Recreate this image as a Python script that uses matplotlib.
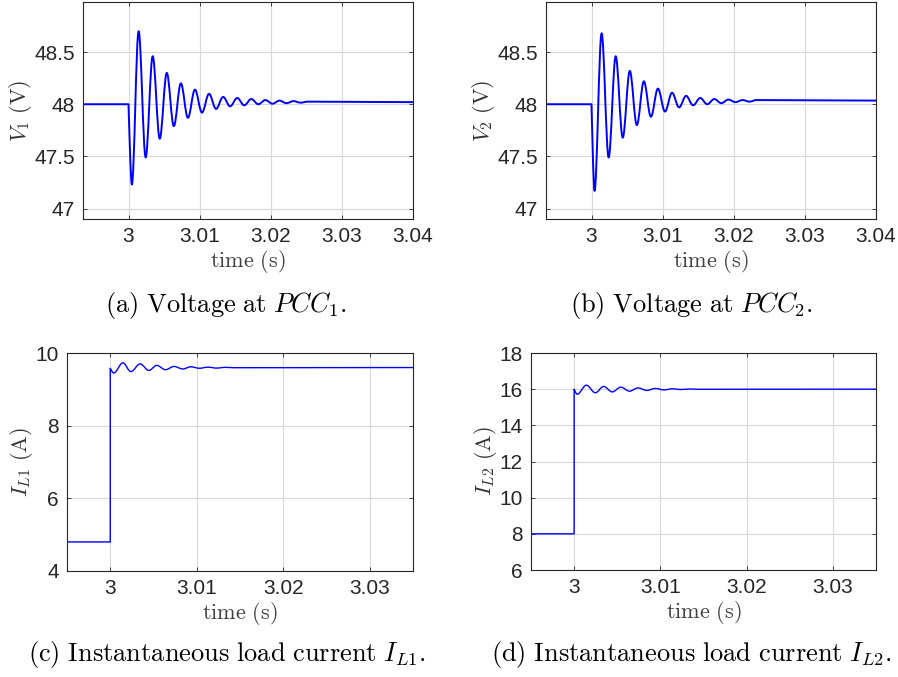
import matplotlib
matplotlib.use('Agg')
import matplotlib.pyplot as plt
from matplotlib.ticker import FormatStrFormatter
from matplotlib.path import Path
from matplotlib.patches import PathPatch

plt.rcParams['mathtext.fontset'] = 'cm'
plt.rcParams['font.family'] = 'Liberation Sans'

# values (turning points of the transients)
t_v1 = [2.9936, 3.0, 3.00047, 3.00142, 3.00241, 3.0034, 3.00439, 3.00538, 3.00637,
        3.00736, 3.00835, 3.00934, 3.01033, 3.01132, 3.01231, 3.0133, 3.01429,
        3.01528, 3.01627, 3.01726, 3.01825, 3.01924, 3.02024, 3.02123, 3.0222,
        3.0232, 3.0242, 3.0252, 3.04]
v1 = [48.0, 48.0, 47.23, 48.70, 47.49, 48.46, 47.67, 48.30, 47.79,
      48.20, 47.87, 48.14, 47.92, 48.10, 47.955, 48.07, 47.98,
      48.06, 47.99, 48.05, 48.0, 48.04, 48.005, 48.035, 48.01,
      48.03, 48.015, 48.025, 48.02]

t_v2 = [2.9936, 3.0, 3.00042, 3.00142, 3.00241, 3.0034, 3.00439, 3.00538, 3.00637,
        3.00736, 3.00835, 3.00934, 3.01033, 3.01132, 3.01231, 3.0133, 3.01429,
        3.01528, 3.01627, 3.01726, 3.01825, 3.01924, 3.02024, 3.02123, 3.0222,
        3.0232, 3.04]
v2 = [48.0, 48.0, 47.17, 48.68, 47.49, 48.46, 47.68, 48.32, 47.80,
      48.22, 47.88, 48.15, 47.93, 48.11, 47.97, 48.08, 47.99,
      48.06, 48.0, 48.05, 48.01, 48.045, 48.02, 48.04, 48.025,
      48.04, 48.035]

t_i1 = [2.995, 3.0, 3.0, 3.0004, 3.00146, 3.00238, 3.00346, 3.00446, 3.00538,
        3.00638, 3.00738, 3.00838, 3.00931, 3.0103, 3.0113, 3.0123, 3.0133,
        3.0143, 3.035]
i1 = [4.8, 4.8, 9.58, 9.45, 9.73, 9.49, 9.70, 9.52, 9.66,
      9.54, 9.63, 9.56, 9.62, 9.58, 9.61, 9.585, 9.605,
      9.595, 9.6]

t_i2 = [2.995, 3.0, 3.0, 3.00035, 3.00142, 3.00246, 3.00342, 3.00442, 3.00542,
        3.00642, 3.00742, 3.00842, 3.00942, 3.01042, 3.0114, 3.0124, 3.0134,
        3.0144, 3.035]
i2 = [8.0, 8.0, 16.0, 15.72, 16.22, 15.80, 16.15, 15.85, 16.11,
      15.89, 16.07, 15.93, 16.04, 15.96, 16.02, 15.98, 16.01,
      15.995, 16.0]

fig = plt.figure(figsize=(8.98, 6.77), dpi=100)
W, H = 898.0, 677.0


def make_ax(l, t, r, b):
    return fig.add_axes([l / W, 1 - b / H, (r - l) / W, (b - t) / H])


def wave(ax, t, v, first, last, lw):
    # straight segments outside [first, last]; smooth bezier between turning points
    verts = [(t[0], v[0])]
    codes = [Path.MOVETO]
    for k in range(1, len(t)):
        t0, v0, t1, v1_ = t[k - 1], v[k - 1], t[k], v[k]
        if first <= k - 1 and k <= last:
            dt = t1 - t0
            c1 = (t0, v0) if k - 1 == first else (t0 + 0.36 * dt, v0)
            c2 = (t1 - 0.36 * dt, v1_)
            verts += [c1, c2, (t1, v1_)]
            codes += [Path.CURVE4] * 3
        else:
            verts.append((t1, v1_))
            codes.append(Path.LINETO)
    ax.add_patch(PathPatch(Path(verts, codes), fill=False, edgecolor='blue',
                           linewidth=lw, joinstyle='round', capstyle='round'))


def style(ax, xlim, ylim, xticks, yticks, ylabel):
    ax.set_xlim(xlim)
    ax.set_ylim(ylim)
    ax.set_xticks(xticks)
    ax.set_yticks(yticks)
    ax.xaxis.set_major_formatter(FormatStrFormatter('%g'))
    ax.yaxis.set_major_formatter(FormatStrFormatter('%g'))
    ax.grid(True, color='0.85', linewidth=0.8)
    ax.set_axisbelow(True)
    ax.tick_params(direction='in', top=True, right=True, length=3, width=0.6,
                   labelsize=15, colors='0.15', pad=6)
    for s in ax.spines.values():
        s.set_color('0.15')
        s.set_linewidth(0.8)
    ax.set_xlabel(r'$\mathrm{time\ (s)}$', fontsize=16, color='0.25', labelpad=1)
    ax.set_ylabel(ylabel, fontsize=16, color='0.2', labelpad=0)


ax_a = make_ax(83, 2, 413, 219)
style(ax_a, (2.9936, 3.04), (46.9, 48.98), [3, 3.01, 3.02, 3.03, 3.04],
      [47, 47.5, 48, 48.5], r'$V_1\ \mathrm{(V)}$')
wave(ax_a, t_v1, v1, 1, len(t_v1) - 2, 1.4)

ax_b = make_ax(546, 2, 876, 219)
style(ax_b, (2.9936, 3.04), (46.9, 48.98), [3, 3.01, 3.02, 3.03, 3.04],
      [47, 47.5, 48, 48.5], r'$V_2\ \mathrm{(V)}$')
wave(ax_b, t_v2, v2, 1, len(t_v2) - 2, 1.4)

ax_c = make_ax(67, 353, 413, 571)
style(ax_c, (2.995, 3.035), (4, 10), [3, 3.01, 3.02, 3.03],
      [4, 6, 8, 10], r'$I_{L1}\ \mathrm{(A)}$')
wave(ax_c, t_i1, i1, 2, len(t_i1) - 2, 1.0)

ax_d = make_ax(531, 353, 876, 570)
style(ax_d, (2.995, 3.035), (6, 18), [3, 3.01, 3.02, 3.03],
      [6, 8, 10, 12, 14, 16, 18], r'$I_{L2}\ \mathrm{(A)}$')
wave(ax_d, t_i2, i2, 2, len(t_i2) - 2, 1.0)

cap = dict(fontsize=19, ha='left', va='baseline', color='black')
fig.text(105 / W, 1 - 312 / H, r'$\mathrm{(a)\ Voltage\ at\ }PCC_1\mathrm{.}$', **cap)
fig.text(570 / W, 1 - 312 / H, r'$\mathrm{(b)\ Voltage\ at\ }PCC_2\mathrm{.}$', **cap)
fig.text(28 / W, 1 - 661 / H, r'$\mathrm{(c)\ Instantaneous\ load\ current\ }I_{L1}\mathrm{.}$', **cap)
fig.text(491 / W, 1 - 661 / H, r'$\mathrm{(d)\ Instantaneous\ load\ current\ }I_{L2}\mathrm{.}$', **cap)

fig.savefig('out.png', dpi=100)
